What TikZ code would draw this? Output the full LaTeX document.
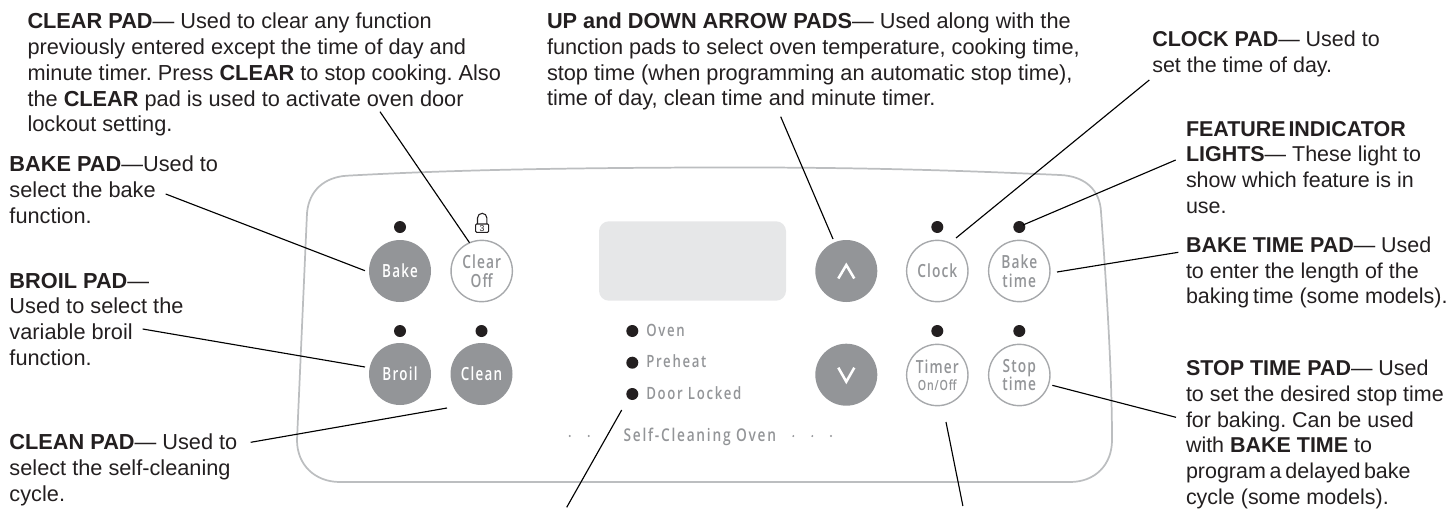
\documentclass[tikz,border=0pt]{standalone}
\usepackage{fontspec}
\usetikzlibrary{calc}
\setmainfont{Liberation Sans}
\newfontfamily\padfont[FakeStretch=0.76,LetterSpace=6]{Open Sans Semibold}
\newfontfamily\padbold[FakeStretch=0.74,LetterSpace=7]{Open Sans Semibold}
\newfontfamily\lampfont[FakeStretch=0.78,LetterSpace=10]{Open Sans Semibold}
\definecolor{ink}{HTML}{231F20}
\definecolor{padgrey}{HTML}{939598}
\definecolor{rimgrey}{HTML}{A7A9AC}
\definecolor{panelrim}{HTML}{BCBEC0}
\definecolor{screen}{HTML}{E6E7E8}
\tikzset{
  x=0.75pt,y=-0.75pt,
  note/.style={anchor=north west,inner sep=0pt,outer sep=0pt,yshift=10.4pt,align=left,text=ink,
    execute at begin node={\frenchspacing\strut},
    font=\fontsize{16.3}{19.3}\selectfont},
  noteright/.style={note,font=\fontsize{16.1}{19.3}\selectfont},
  solidpad/.style={circle,minimum size=46.5pt,inner sep=0pt,fill=padgrey,text=white,align=center,
    font=\padbold\fontsize{13.6}{14}\selectfont},
  ringpad/.style={circle,minimum size=46pt,inner sep=0pt,draw=rimgrey,line width=1.05pt,fill=white,text=padgrey,align=center,
    font=\padfont\fontsize{13.6}{14}\selectfont},
  led/.style={circle,minimum size=9pt,inner sep=0pt,fill=ink},
  speck/.style={circle,minimum size=1.6pt,inner sep=0pt,fill=padgrey},
  lamplabel/.style={anchor=base west,inner sep=0pt,text=padgrey,font=\lampfont\fontsize{12.7}{14}\selectfont},
  leader/.style={draw=black,line width=0.85pt},
  chevron/.style={draw=white,line width=1.9pt},
}
\begin{document}
\begin{tikzpicture}
\useasboundingbox (0,0) rectangle (1449,508);
% panel
\draw[panelrim,line width=1.3pt] (297,440) -- (307,213)
  .. controls (309,190) and (325,177) .. (347,175.7)
  .. controls (450,170) and (560,168) .. (700,167.5)
  .. controls (850,167) and (950,170) .. (1060,175)
  .. controls (1085,176) and (1100,190) .. (1101,212)
  .. controls (1106,280) and (1112,370) .. (1112,440)
  .. controls (1112,465) and (1095,482) .. (1070,482)
  -- (340,482)
  .. controls (315,482) and (297,465) .. (297,440) -- cycle;
\node[fill=screen,rounded corners=7.5pt,minimum width=140.25pt,minimum height=59.6pt,inner sep=0pt] (display) at (692.5,261) {};
% pads
\node[solidpad] (bake) at (400,271) {Bake};
\node[ringpad] (clear) at (481.7,271) {Clear\\Off};
\node[solidpad] (broil) at (400,374) {Broil};
\node[solidpad] (clean) at (481.5,374) {Clean};
\node[solidpad] (up) at (846.3,271) {};
\node[solidpad] (down) at (846.3,374.7) {};
\node[ringpad] (clock) at (937.3,271) {Clock};
\node[ringpad] (baketime) at (1019.3,271) {Bake\\time};
\node[ringpad] (timer) at (937.3,375) {Timer\\[-1pt]{\fontsize{10.5}{12}\selectfont On/Off}};
\node[ringpad] (stoptime) at (1019.3,375) {Stop\\time};
\draw[chevron] ([shift={(-8,7.5)}]up.center) -- ([shift={(0,-6)}]up.center) -- ([shift={(8,7.5)}]up.center);
\draw[chevron] ([shift={(-8,-7)}]down.center) -- ([shift={(0,7)}]down.center) -- ([shift={(8,-7)}]down.center);
% LEDs
\node[led] (ledbake) at (400,227) {};
\node[led] (ledbroil) at (400,331) {};
\node[led] (ledclean) at (481.5,331) {};
\node[led] (ledclock) at (937.3,227) {};
\node[led] (ledbaketime) at (1019.3,227) {};
\node[led] (ledtimer) at (937.3,331) {};
\node[led] (ledstop) at (1019.3,331) {};
\node[led] (ledoven) at (632.3,331) {};
\node[led] (ledpreheat) at (632.3,362.7) {};
\node[led] (leddoor) at (632.3,394) {};
% lock
\draw[ink,line width=0.8pt] (477.5,224) -- (477.5,218) arc[start angle=180,end angle=360,radius=4.7] -- (486.9,224);
\draw[ink,line width=0.8pt,fill=white,rounded corners=0.8pt] (475.6,224) rectangle (488.6,232.4);
\node[inner sep=0pt,text=ink,font=\fontsize{6.5}{7}\selectfont] (lock3) at (482.1,228.2) {3};
% panel labels
\node[lamplabel] (oven) at (646,336) {Oven};
\node[lamplabel] (preheat) at (646,367.7) {Preheat};
\node[lamplabel] (door) at (646,399.3) {Door Locked};
\node[lamplabel,font=\lampfont\fontsize{13.2}{14}\selectfont] (selfclean) at (623.3,441.7) {Self-Cleaning Oven};
\node[speck] (d1) at (569.7,436) {};
\node[speck] (d2) at (588.7,436) {};
\node[speck] (d3) at (793.3,436) {};
\node[speck] (d4) at (812.3,436) {};
\node[speck] (d5) at (831,436) {};
% notes
\node[note] (nclear) at (27.5,27) {\textbf{CLEAR PAD}— Used to clear any function\\previously entered except the time of day and\\minute timer. Press \textbf{CLEAR} to stop cooking. Also\\the \textbf{CLEAR} pad is used to activate oven door\\lockout setting.};
\node[note] (nbake) at (9.5,170) {\textbf{BAKE PAD}—Used to\\select the bake\\function.};
\node[note] (nbroil) at (9.5,286.7) {\textbf{BROIL PAD}—\\Used to select the\\variable broil\\function.};
\node[note] (nclean) at (9.5,447.7) {\textbf{CLEAN PAD}— Used to\\select the self-cleaning\\cycle.};
\node[note] (nup) at (547,26.7) {\textbf{UP and DOWN ARROW PADS}— Used along with the\\function pads to select oven temperature, cooking time,\\stop time (when programming an automatic stop time),\\time of day, clean time and minute timer.};
\node[noteright] (nclock) at (1152.3,45) {\textbf{CLOCK PAD}— Used to\\set the time of day.};
\node[noteright] (nfeature) at (1186,135) {\textbf{FEATURE\hspace{-0.15em} INDICATOR}\\\textbf{LIGHTS}— These light to\\show which feature is in\\use.};
\node[noteright] (nbaketime) at (1186,250.7) {\textbf{BAKE TIME PAD}— Used\\to enter the length of the\\baking\hspace{-0.1em} time (some models).};
\node[noteright] (nstop) at (1186,374) {\textbf{STOP TIME PAD}— Used\\to set the desired stop time\\for baking. Can be used\\with \textbf{BAKE TIME} to\\program\hspace{-0.1em} a\hspace{-0.1em} delayed\hspace{-0.12em} bake\\cycle (some models).};
% free ends of leaders
\coordinate (eclear) at (380,111.7);
\coordinate (ebake) at (165.7,194);
\coordinate (ebroil) at (142.7,329);
\coordinate (eclean) at (250.7,442.3);
\coordinate (edoor) at (566.7,507.3);
\coordinate (etimer) at (962.9,506);
\coordinate (eup) at (780.7,116.7);
\coordinate (eclock) at (1149.3,80);
\coordinate (efeature) at (1175.7,160);
\coordinate (ebaketime) at (1178.3,252.3);
\coordinate (estop) at (1176,417.3);
% leaders
\draw[leader] (eclear) -- ([shift={(-12.2,-28.3)}]clear.center);
\draw[leader] (ebake) -- ([shift={(-35,-0.3)}]bake.center);
\draw[leader] (ebroil) -- ([shift={(-35,-7)}]broil.center);
\draw[leader] (eclean) -- ([shift={(-34.5,34)}]clean.center);
\draw[leader] (edoor) -- ([shift={(-10.6,16)}]leddoor.center);
\draw[leader] (etimer) -- ([shift={(8.7,47)}]timer.center);
\draw[leader] (eup) -- ([shift={(-13.3,-32)}]up.center);
\draw[leader] (eclock) -- ([shift={(18.7,-33)}]clock.center);
\draw[leader] (efeature) -- ([shift={(3.7,-2)}]ledbaketime.center);
\draw[leader] (ebaketime) -- ([shift={(37.7,1)}]baketime.center);
\draw[leader] (estop) -- ([shift={(33,10.3)}]stoptime.center);
\end{tikzpicture}
\end{document}
